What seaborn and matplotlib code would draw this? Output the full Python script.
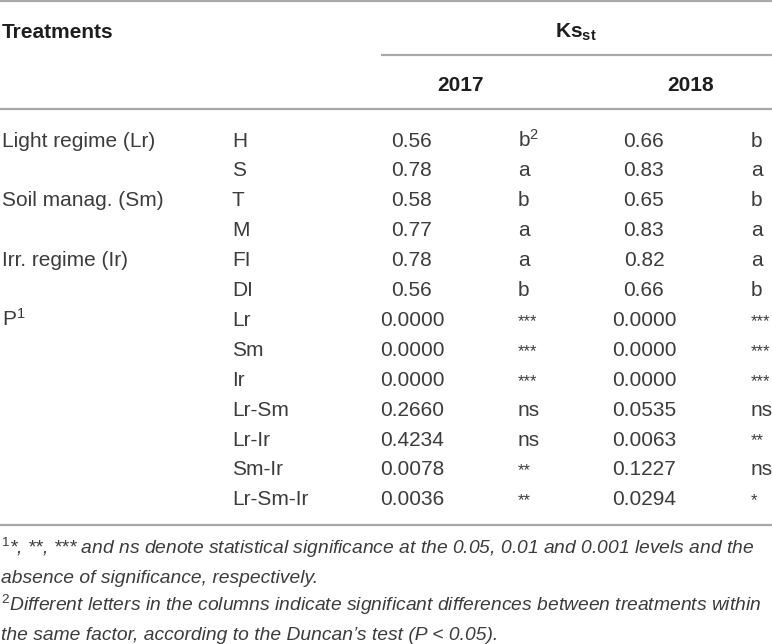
import matplotlib
matplotlib.use('Agg')
import matplotlib.pyplot as plt
import seaborn as sns

# table content
factors = ['Light regime (Lr)', '', 'Soil manag. (Sm)', '', 'Irr. regime (Ir)', '',
           'P$^{1}$', '', '', '', '', '', '']
levels = ['H', 'S', 'T', 'M', 'FI', 'DI', 'Lr', 'Sm', 'Ir', 'Lr-Sm', 'Lr-Ir', 'Sm-Ir', 'Lr-Sm-Ir']
ks_2017 = ['0.56', '0.78', '0.58', '0.77', '0.78', '0.56',
           '0.0000', '0.0000', '0.0000', '0.2660', '0.4234', '0.0078', '0.0036']
sig_2017 = ['b$^{2}$', 'a', 'b', 'a', 'a', 'b', '***', '***', '***', 'ns', 'ns', '**', '**']
ks_2018 = ['0.66', '0.83', '0.65', '0.83', '0.82', '0.66',
           '0.0000', '0.0000', '0.0000', '0.0535', '0.0063', '0.1227', '0.0294']
sig_2018 = ['b', 'a', 'b', 'a', 'a', 'b', '***', '***', '***', 'ns', '**', 'ns', '*']
years = ['2017', '2018']
footnotes = [
    '$^{\\mathit{1}}$*, **, *** and ns denote statistical significance at the 0.05, 0.01 and 0.001 levels and the',
    'absence of significance, respectively.',
    '$^{\\mathit{2}}$Different letters in the columns indicate significant differences between treatments within',
    'the same factor, according to the Duncan\u2019s test (P < 0.05).',
]

sns.set_theme(style='white')
plt.rcParams['font.family'] = ['Liberation Sans', 'DejaVu Sans']
plt.rcParams['mathtext.fontset'] = 'custom'
plt.rcParams['mathtext.rm'] = 'Liberation Sans'
plt.rcParams['mathtext.it'] = 'Liberation Sans:italic'
plt.rcParams['mathtext.bf'] = 'Liberation Sans:bold'

W, H = 772, 644
fig = plt.figure(figsize=(W / 100, H / 100), dpi=100)
ax = fig.add_axes([0, 0, 1, 1])
ax.set_xlim(0, W)
ax.set_ylim(H, 0)
ax.axis('off')

TXT = '#3c3c3c'
HDR = '#1e1e1e'
RULE = '#a8a8a8'
FS = 15
FS_NOTE = 13.85


def sig_text(x, y, s):
    # asterisks are set smaller in the source table
    fs = 12 if s.startswith('*') else FS
    ax.text(x, y, s, fontsize=fs, color=TXT, va='baseline')


# rules
ax.hlines([1, 109, 525], 0, W, color=RULE, lw=1.6)
ax.hlines(55, 381, W, color=RULE, lw=1.6)

# header
ax.text(2, 38, 'Treatments', fontsize=FS, fontweight='bold', color=HDR, va='baseline')
ax.text(576, 38, 'Ks$_{\\mathbf{st}}$', fontsize=FS, fontweight='bold', color=HDR,
        va='baseline', ha='center')
for x, yr in zip([460, 691], years):
    ax.text(x, 91, yr, fontsize=FS, fontweight='bold', color=HDR, va='baseline', ha='center')

# body rows
row0, step = 139, 29.9
for i in range(len(levels)):
    yb = row0 + i * step + 7.5
    if factors[i]:
        ax.text(2, yb, factors[i], fontsize=FS, color=TXT, va='baseline')
    ax.text(232, yb, levels[i], fontsize=FS, color=TXT, va='baseline')
    ax.text(412, yb, ks_2017[i], fontsize=FS, color=TXT, va='baseline', ha='center')
    sig_text(518, yb, sig_2017[i])
    ax.text(644, yb, ks_2018[i], fontsize=FS, color=TXT, va='baseline', ha='center')
    sig_text(751, yb, sig_2018[i])

# footnotes
for j, note in enumerate(footnotes):
    ax.text(1, 547 + j * 28.7 + 7, note, fontsize=FS_NOTE, color=TXT, style='italic', va='baseline')

fig.savefig('out.png', dpi=100)
